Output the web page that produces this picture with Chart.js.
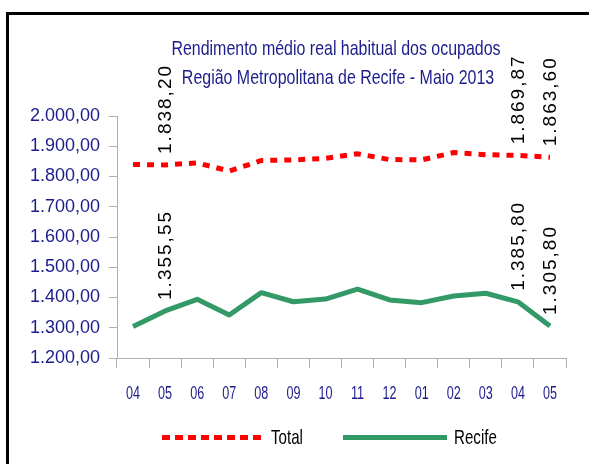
<!DOCTYPE html>
<html>
<head>
<meta charset="utf-8">
<script src="https://cdn.jsdelivr.net/npm/chart.js@4/dist/chart.umd.min.js"></script>
<style>
  html, body { margin: 0; padding: 0; background: #fff; }
  #wrap { position: relative; width: 589px; height: 464px; }
</style>
</head>
<body>
<div id="wrap"><canvas id="chart" width="589" height="464"></canvas></div>
<script>
/* ── Data ───────────────────────────────────────────────── */

const months = ['04', '05', '06', '07', '08', '09', '10', '11', '12', '01', '02', '03', '04', '05'];
const totalValues = [1840, 1838.20, 1845, 1818, 1853, 1855, 1860, 1875, 1856, 1855, 1879, 1872, 1869.87, 1863.60];
const recifeValues = [1304, 1355.55, 1394, 1342, 1416, 1386, 1395, 1428, 1392, 1383, 1405, 1414, 1385.80, 1305.80];
const labeledIdx = [1, 12, 13];
const titleLines = ['Rendimento médio real habitual dos ocupados', 'Região Metropolitana de Recife - Maio 2013'];
const yMin = 1200, yMax = 2000, yStep = 100;

const NAVY = '#1c1c8c';
const AXIS = '#b0b0b0';
const SANS = '"Liberation Sans", Arial, sans-serif';

/* ── Helpers ────────────────────────────────────────────── */

function fmtBR(v) {
  const [int, dec] = v.toFixed(2).split('.');
  return int.replace(/\B(?=(\d{3})+(?!\d))/g, '.') + ',' + dec;
}

// draw text squeezed horizontally, like the old Excel export
function squeezedText(ctx, text, x, y, sx) {
  ctx.save();
  ctx.translate(x, y);
  ctx.scale(sx, 1);
  ctx.fillText(text, 0, 0);
  ctx.restore();
}

/* ── Plugins ────────────────────────────────────────────── */

const framePlugin = {
  id: 'frame',
  beforeDraw(chart) {
    const ctx = chart.ctx;
    ctx.save();
    ctx.fillStyle = '#000';
    ctx.fillRect(6, 12, 583, 3);
    ctx.fillRect(6, 12, 3, 452);
    ctx.restore();
  },
  afterDraw(chart) {
    const ctx = chart.ctx;
    ctx.save();
    ctx.fillStyle = NAVY;
    ctx.font = '21px ' + SANS;
    ctx.textAlign = 'center';
    ctx.textBaseline = 'alphabetic';
    squeezedText(ctx, titleLines[0], 336, 55, 0.76);
    squeezedText(ctx, titleLines[1], 338, 84, 0.76);
    ctx.restore();
  }
};

// x tick labels, narrow and tall like the source
const xLabels = {
  id: 'xLabels',
  afterDraw(chart) {
    const ctx = chart.ctx;
    const xs = chart.scales.x;
    ctx.save();
    ctx.fillStyle = NAVY;
    ctx.font = '18px ' + SANS;
    ctx.textAlign = 'center';
    ctx.textBaseline = 'alphabetic';
    months.forEach((m, i) => {
      squeezedText(ctx, m, xs.getPixelForTick(i), 399, 0.7);
    });
    ctx.restore();
  }
};

const pointLabels = {
  id: 'pointLabels',
  afterDatasetsDraw(chart) {
    const ctx = chart.ctx;
    ctx.save();
    ctx.fillStyle = '#000';
    ctx.font = '19px ' + SANS;
    ctx.textAlign = 'left';
    ctx.textBaseline = 'middle';
    ctx.letterSpacing = '2px';
    chart.data.datasets.forEach((ds, di) => {
      const meta = chart.getDatasetMeta(di);
      labeledIdx.forEach(i => {
        const pt = meta.data[i];
        ctx.save();
        ctx.translate(pt.x + 1, pt.y - 11);
        ctx.rotate(-Math.PI / 2);
        ctx.fillText(fmtBR(ds.data[i]), 0, 0);
        ctx.restore();
      });
    });
    ctx.restore();
  }
};

const legendPlugin = {
  id: 'customLegend',
  afterDraw(chart) {
    const ctx = chart.ctx;
    const items = [
      { ds: chart.data.datasets[0], x0: 162, x1: 265, tx: 271, dash: [8, 5] },
      { ds: chart.data.datasets[1], x0: 343, x1: 447, tx: 454, dash: [] }
    ];
    const y = 437.5;
    ctx.save();
    items.forEach(it => {
      ctx.beginPath();
      ctx.strokeStyle = it.ds.borderColor;
      ctx.lineWidth = 5;
      ctx.lineCap = 'butt';
      ctx.setLineDash(it.dash);
      ctx.moveTo(it.x0, y);
      ctx.lineTo(it.x1, y);
      ctx.stroke();
      ctx.setLineDash([]);
      ctx.fillStyle = '#000';
      ctx.font = '21px ' + SANS;
      ctx.textAlign = 'left';
      ctx.textBaseline = 'alphabetic';
      squeezedText(ctx, it.ds.label, it.tx, 444, 0.72);
    });
    ctx.restore();
  }
};

/* ── Chart ──────────────────────────────────────────────── */

new Chart(document.getElementById('chart'), {
  type: 'line',
  data: {
    labels: months,
    datasets: [
      {
        label: 'Total',
        data: totalValues,
        borderColor: '#ff0000',
        borderWidth: 5,
        borderDash: [7, 7],
        borderCapStyle: 'butt',
        pointRadius: 0,
        tension: 0,
        fill: false
      },
      {
        label: 'Recife',
        data: recifeValues,
        borderColor: '#339966',
        borderWidth: 5,
        borderJoinStyle: 'round',
        pointRadius: 0,
        tension: 0,
        fill: false
      }
    ]
  },
  options: {
    responsive: false,
    animation: false,
    events: [],
    layout: { padding: { top: 116, right: 23, bottom: 56, left: 0 } },
    plugins: {
      legend: { display: false },
      title: { display: false },
      tooltip: { enabled: false }
    },
    scales: {
      x: {
        offset: true,
        grid: {
          offset: true,
          drawOnChartArea: false,
          color: AXIS,
          tickLength: 10,
          lineWidth: 1
        },
        border: { color: AXIS, width: 1 },
        ticks: { display: false, autoSkip: false },
        afterFit(scale) { scale.height = 50; }
      },
      y: {
        min: yMin,
        max: yMax,
        grid: {
          drawOnChartArea: false,
          color: AXIS,
          tickLength: 8,
          lineWidth: 1
        },
        border: { color: AXIS, width: 1 },
        ticks: {
          stepSize: yStep,
          color: NAVY,
          font: { family: SANS, size: 18 },
          padding: 9,
          callback: v => fmtBR(v)
        },
        afterFit(scale) { scale.width = 117; }
      }
    }
  },
  plugins: [framePlugin, xLabels, pointLabels, legendPlugin]
});
</script>
</body>
</html>
